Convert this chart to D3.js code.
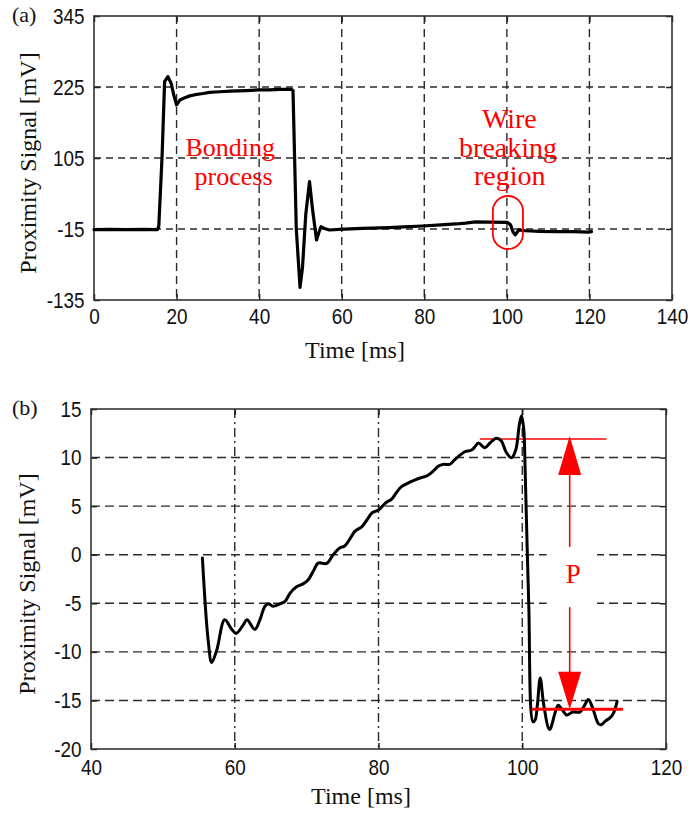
<!DOCTYPE html>
<html>
<head>
<meta charset="utf-8">
<script src="https://cdn.jsdelivr.net/npm/d3@7"></script>
<style>
  html, body { margin: 0; padding: 0; background: #fff; }
  svg { display: block; }
</style>
</head>
<body>
<svg id="chart" width="696" height="814"></svg>
<script>
// ---------- (a) full bonding cycle ----------
const timeA = [0, 4, 8, 12, 15.4, 15.7, 16.5, 17.1, 17.9, 18.7, 19.3, 20.0, 20.8, 22.0, 23.2, 24.5,
  26.4, 28.0, 30.4, 33.0, 36.9, 40.0, 42.5, 45.0, 47.8, 48.2, 49.0, 49.9, 50.5, 51.3, 52.2,
  52.9, 53.9, 54.5, 55.0, 55.8, 57.0, 59.4, 65.0, 71.5, 75.0, 79.6, 84.0, 87.6, 90.0, 92.4,
  96.0, 100.1, 100.9, 101.5, 102.0, 102.9, 104.5, 108.0, 112.0, 116.0, 119.8, 120.5];
const signalA = [-16, -15.5, -16, -15.5, -16, -10, 110, 234, 242.5, 231, 212, 194.6, 203, 207, 210, 212,
  214, 216, 217, 218, 219, 220, 220, 221, 221, 219, -15, -113.5, -80, 10, 65,
  20, -33.6, -20, -11, -14, -16.7, -15.5, -14, -12.6, -11.5, -9.9, -8, -6.5, -5, -3,
  -3.5, -3.7, -8, -20, -25, -16.6, -18, -19, -19.5, -19.5, -20.3, -19.5];
const xTicksA = [0, 20, 40, 60, 80, 100, 120, 140];
const yTicksA = [-135, -15, 105, 225, 345];

// ---------- (b) wire breaking detail ----------
const timeB = [55.5, 56.3, 56.8, 57.5, 58.6, 59.6, 60.2, 61.2, 61.7, 62.8, 63.5, 64.2, 64.7, 65.3,
  66.3, 67.0, 67.7, 68.6, 69.5, 70.2, 71.0, 71.6, 72.8, 73.7, 74.6, 75.3, 76.0, 76.7, 77.7,
  78.4, 79.1, 80.0, 81.1, 81.8, 82.5, 83.2, 83.9, 85.1, 85.8, 86.7, 87.6, 88.3, 89.0, 89.9,
  90.5, 91.1, 92.0, 92.9, 93.4, 93.9, 94.8, 95.5, 96.4, 97.1, 97.8, 98.5, 99.1, 99.6, 99.9,
  100.2, 100.4, 100.9, 101.5, 101.8, 102.1, 102.5, 103.0, 103.8, 104.6, 105.0, 105.6, 106.2,
  107.0, 108.0, 108.6, 109.2, 109.8, 110.6, 111.0, 111.6, 112.2, 112.7, 113.2];
const signalB = [-0.35, -8.8, -11.1, -9.8, -6.7, -7.7, -8.1, -7.2, -6.7, -7.7, -6.7, -5.3, -5.05, -5.3,
  -5.05, -4.8, -3.95, -3.3, -3.0, -2.6, -1.6, -0.86, -0.9, 0.0, 0.69, 0.9, 1.6, 2.4, 2.9,
  3.6, 4.3, 4.6, 5.4, 5.7, 6.4, 7.0, 7.3, 7.7, 7.9, 8.1, 8.6, 9.1, 9.3, 9.3,
  9.7, 10.1, 10.6, 10.75, 11.1, 11.5, 11.0, 11.5, 12.0, 11.7, 10.5, 9.97, 10.8, 13.4, 14.3,
  13.0, 8.8, -5.0, -17.2, -17.0, -15.5, -12.7, -15.5, -18.0, -16.2, -15.5, -16.0, -16.5,
  -16.2, -16.2, -15.6, -14.9, -15.8, -17.4, -17.5, -17.1, -16.8, -16.3, -15.1];
const xTicksB = [40, 60, 80, 100, 120];
const yTicksB = [-20, -15, -10, -5, 0, 5, 10, 15];

// peak-to-peak levels marked by the P arrow
const pLevelTop = 11.9;
const pLevelBottom = -15.9;

const SERIF = "'Liberation Serif', 'Times New Roman', serif";
const SANS = "'Liberation Sans', Arial, sans-serif";
const RED = "#ff0000";

const svg = d3.select("#chart");

function drawPanel(o) {
  const x = d3.scaleLinear().domain(o.xDomain).range([o.left, o.right]);
  const y = d3.scaleLinear().domain(o.yDomain).range([o.bottom, o.top]);
  const g = svg.append("g");

  // dashed grid
  const grid = g.append("g").attr("stroke", "#2a2a2a").attr("stroke-width", 1.4).attr("fill", "none");
  grid.selectAll("line.v").data(o.xTicks.filter(d => d > o.xDomain[0] && d < o.xDomain[1]))
    .join("line").attr("class", "v")
    .attr("x1", d => x(d)).attr("x2", d => x(d))
    .attr("y1", o.top).attr("y2", o.bottom)
    .attr("stroke-dasharray", o.vDash);
  grid.selectAll("line.h").data(o.yTicks.filter(d => d > o.yDomain[0] && d < o.yDomain[1]))
    .join("line").attr("class", "h")
    .attr("x1", o.left).attr("x2", o.right)
    .attr("y1", d => y(d)).attr("y2", d => y(d))
    .attr("stroke-dasharray", o.hDash);

  // axes with inward ticks on all four sides
  const fmt = d => String(d);
  const styleAxis = sel => {
    sel.attr("font-family", SANS).attr("font-size", 22);
    sel.select(".domain").remove();
    sel.selectAll(".tick line").attr("stroke", "#222").attr("stroke-width", 1.5);
    sel.selectAll(".tick text").attr("fill", "#111").attr("transform", "scale(0.86,1)");
  };
  g.append("g").attr("transform", `translate(0,${o.bottom})`)
    .call(d3.axisBottom(x).tickValues(o.xTicks).tickFormat(fmt).tickSizeInner(-6).tickSizeOuter(0).tickPadding(o.xPad))
    .call(styleAxis);
  g.append("g").attr("transform", `translate(${o.left},0)`)
    .call(d3.axisLeft(y).tickValues(o.yTicks).tickFormat(fmt).tickSizeInner(-6).tickSizeOuter(0).tickPadding(11))
    .call(styleAxis);
  g.append("g").attr("transform", `translate(0,${o.top})`)
    .call(d3.axisTop(x).tickValues(o.xTicks).tickFormat("").tickSizeInner(-6).tickSizeOuter(0))
    .call(styleAxis);
  g.append("g").attr("transform", `translate(${o.right},0)`)
    .call(d3.axisRight(y).tickValues(o.yTicks).tickFormat("").tickSizeInner(-6).tickSizeOuter(0))
    .call(styleAxis);

  // frame
  g.append("rect")
    .attr("x", o.left).attr("y", o.top)
    .attr("width", o.right - o.left).attr("height", o.bottom - o.top)
    .attr("fill", "none").attr("stroke", "#333").attr("stroke-width", 1.6);

  // axis titles and panel tag
  g.append("text")
    .attr("transform", `translate(${o.yTitleX},${(o.top + o.bottom) / 2 + o.yTitleDy}) rotate(-90)`)
    .attr("text-anchor", "middle").attr("font-family", SERIF).attr("font-size", 24).attr("fill", "#111")
    .text("Proximity Signal [mV]");
  g.append("text")
    .attr("x", o.xTitleX).attr("y", o.xTitleY)
    .attr("text-anchor", "middle").attr("font-family", SERIF).attr("font-size", 24).attr("fill", "#111")
    .text("Time [ms]");
  g.append("text")
    .attr("x", o.tagX).attr("y", o.tagY)
    .attr("font-family", SERIF).attr("font-size", 22).attr("fill", "#111")
    .text(o.tag);

  return { x, y, g };
}

// ---------- panel (a) ----------
const A = drawPanel({
  left: 94, right: 672, top: 16, bottom: 300,
  xDomain: [0, 140], yDomain: [-135, 345],
  xTicks: xTicksA, yTicks: yTicksA,
  hDash: "7,5", vDash: "8,5", xPad: 8,
  yTitleX: 36, yTitleDy: 5, xTitleX: 355, xTitleY: 358,
  tag: "(a)", tagX: 12, tagY: 22
});

A.g.append("path")
  .datum(timeA.map((t, i) => [t, signalA[i]]))
  .attr("fill", "none").attr("stroke", "#000").attr("stroke-width", 3.2)
  .attr("stroke-linejoin", "round").attr("stroke-linecap", "round")
  .attr("d", d3.line().x(d => A.x(d[0])).y(d => A.y(d[1])));

const redText = (g, x, y, s, size) => g.append("text")
  .attr("x", x).attr("y", y).attr("text-anchor", "middle")
  .attr("font-family", SERIF).attr("font-size", size).attr("fill", RED).text(s);

redText(A.g, A.x(33.0), A.y(109.2), "Bonding", 26);
redText(A.g, A.x(33.8), A.y(60.2), "process", 26);
redText(A.g, A.x(100.6), A.y(155.7), "Wire", 28);
redText(A.g, A.x(100.3), A.y(106.7), "breaking", 28);
redText(A.g, A.x(100.7), A.y(59.4), "region", 28);

// outline around the break
const rx0 = A.x(96.6), rx1 = A.x(103.9), ry0 = A.y(40.8), ry1 = A.y(-48.8);
A.g.append("rect")
  .attr("x", rx0).attr("y", ry0).attr("width", rx1 - rx0).attr("height", ry1 - ry0)
  .attr("rx", (rx1 - rx0) / 2).attr("ry", (rx1 - rx0) / 2)
  .attr("fill", "none").attr("stroke", RED).attr("stroke-width", 1.8);

// ---------- panel (b) ----------
const B = drawPanel({
  left: 91, right: 666, top: 409, bottom: 749,
  xDomain: [40, 120], yDomain: [-20, 15],
  xTicks: xTicksB, yTicks: yTicksB,
  hDash: "9,5", vDash: "9,4,2,4", xPad: 10,
  yTitleX: 35, yTitleDy: 5, xTitleX: 361, xTitleY: 804,
  tag: "(b)", tagX: 12, tagY: 415
});

// P arrow between the two levels
const ax = B.x(106.6);
const yTopL = B.y(pLevelTop), yBotL = B.y(pLevelBottom);
B.g.append("line").attr("x1", B.x(94.1)).attr("x2", B.x(111.7))
  .attr("y1", yTopL).attr("y2", yTopL).attr("stroke", RED).attr("stroke-width", 1.5);
B.g.append("line").attr("x1", ax).attr("x2", ax)
  .attr("y1", yTopL + 30).attr("y2", yBotL - 30).attr("stroke", RED).attr("stroke-width", 1.6);
B.g.append("path")
  .attr("d", `M${ax},${yTopL - 3} L${ax - 11.5},${yTopL + 36} L${ax + 11.5},${yTopL + 36} Z`)
  .attr("fill", RED);
B.g.append("path")
  .attr("d", `M${ax},${yBotL} L${ax - 11.5},${yBotL - 37.5} L${ax + 11.5},${yBotL - 37.5} Z`)
  .attr("fill", RED);
// clear band behind the label
B.g.append("rect")
  .attr("x", B.x(103.4)).attr("y", B.y(0.8))
  .attr("width", B.x(110.4) - B.x(103.4)).attr("height", B.y(-5.4) - B.y(0.8))
  .attr("fill", "#fff");
redText(B.g, B.x(107.1), B.y(-2.9), "P", 27);

B.g.append("path")
  .datum(timeB.map((t, i) => [t, signalB[i]]))
  .attr("fill", "none").attr("stroke", "#000").attr("stroke-width", 3)
  .attr("stroke-linejoin", "round").attr("stroke-linecap", "round")
  .attr("d", d3.line().curve(d3.curveCatmullRom.alpha(0.5)).x(d => B.x(d[0])).y(d => B.y(d[1])));

B.g.append("line").attr("x1", B.x(101.3)).attr("x2", B.x(114.0))
  .attr("y1", yBotL).attr("y2", yBotL).attr("stroke", RED).attr("stroke-width", 3);
</script>
</body>
</html>
